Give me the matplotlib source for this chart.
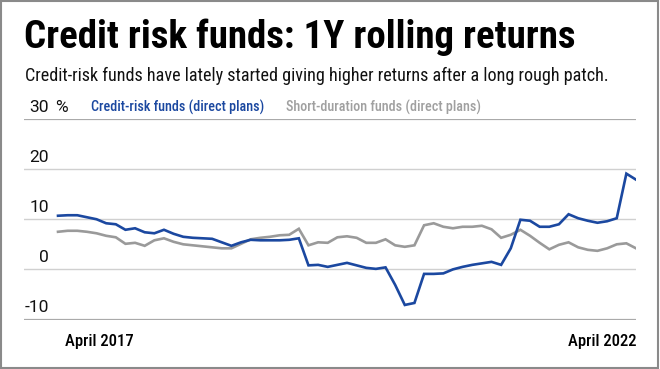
import matplotlib
matplotlib.use("Agg")
import matplotlib.pyplot as plt
import numpy as np

# 1Y rolling returns, monthly, April 2017 .. April 2022 (%)
credit_risk = [10.7, 10.8, 10.8, 10.4, 10.0, 9.2, 9.0, 7.9, 8.2, 7.4,
               7.2, 7.9, 7.1, 6.5, 6.3, 6.2, 6.1, 5.4, 4.7, 5.4,
               5.9, 5.8, 5.8, 5.8, 5.9, 6.2, 0.8, 0.9, 0.5, 0.9,
               1.3, 0.8, 0.3, 0.1, 0.4, -3.1, -7.1, -6.7, -0.9, -0.9,
               -0.8, 0.0, 0.5, 0.9, 1.2, 1.5, 0.9, 4.2, 9.9, 9.7,
               8.5, 8.5, 9.0, 11.0, 10.2, 9.7, 9.3, 9.6, 10.2, 19.1,
               17.9]
short_duration = [7.5, 7.7, 7.7, 7.5, 7.2, 6.7, 6.4, 5.1, 5.3, 4.7,
                  5.8, 6.2, 5.5, 5.0, 4.8, 4.6, 4.4, 4.2, 4.2, 5.1,
                  6.0, 6.3, 6.5, 6.8, 6.9, 8.1, 4.8, 5.4, 5.3, 6.4,
                  6.6, 6.3, 5.3, 5.3, 6.0, 4.8, 4.5, 4.8, 8.8, 9.2,
                  8.5, 8.2, 8.5, 8.5, 8.7, 8.0, 6.3, 6.9, 7.9, 6.7,
                  5.3, 4.0, 4.9, 5.4, 4.4, 3.9, 3.7, 4.2, 5.0, 5.2,
                  4.2]
y_ticks = [-10, 0, 10, 20, 30]
x_labels = ["April 2017", "April 2022"]

W, H = 660, 369
fig = plt.figure(figsize=(W / 100, H / 100), dpi=100)

def fx(px):
    return px / W

def fy(py):
    return 1 - py / H

blue = "#1b48a0"
grey = "#9a9a9a"
cfam = ["Roboto Condensed", "Archivo Narrow", "Roboto"]

ax = fig.add_axes([fx(24), fy(319.5), fx(636) - fx(24), fy(119) - fy(319.5)])
x = np.arange(len(credit_risk))
ax.plot(x, short_duration, color=grey, lw=1.9, solid_joinstyle="miter")
ax.plot(x, credit_risk, color=blue, lw=1.9, solid_joinstyle="miter")
ax.set_xlim(-3.53, 60)
ax.set_ylim(-10, 30)
for s in ax.spines.values():
    s.set_visible(False)
ax.set_xticks([])
ax.set_yticks([])
for v in y_ticks:
    if v in (-10, 30):
        ax.axhline(v, color="#aaaaaa", lw=1.6, zorder=0)
    else:
        ax.axhline(v, color="#d0d0d0", lw=1.0, zorder=0)

# y labels sit just above their gridlines
for v in y_ticks:
    fig.text(fx(49), fy(269.3 - 5.0 * v - 7), str(v), ha="right", va="baseline",
             fontsize=12.5, family=["Roboto"], color="#111111")
fig.text(fx(55), fy(119 - 7), "%", ha="left", va="baseline", fontsize=12.5,
         family=["Roboto"], color="#111111")

fig.text(fx(91), fy(111.5), "Credit-risk funds (direct plans)", ha="left", va="baseline",
         fontsize=10.2, weight="medium", family=cfam, color=blue)
fig.text(fx(286), fy(111.5), "Short-duration funds (direct plans)", ha="left", va="baseline",
         fontsize=10.2, weight="medium", family=cfam, color="#a0a0a0")

fig.text(fx(65), fy(346), x_labels[0], ha="left", va="baseline", fontsize=12,
         weight="medium", family=cfam)
fig.text(fx(636), fy(346), x_labels[1], ha="right", va="baseline", fontsize=12,
         weight="medium", family=cfam)

fig.text(fx(24), fy(48), "Credit risk funds: 1Y rolling returns", ha="left", va="baseline",
         fontsize=28, weight="bold", family=cfam)
fig.text(fx(25), fy(81), "Credit-risk funds have lately started giving higher returns after a long rough patch.",
         ha="left", va="baseline", fontsize=13.05, family=cfam, color="#111111")

fig.patches.append(plt.Rectangle((fx(1), fy(367.5)), fx(657), fy(1) - fy(367.5),
                                 transform=fig.transFigure, fill=False,
                                 edgecolor="#8a8a8a", lw=1.5))

fig.savefig("out.png", dpi=100)
